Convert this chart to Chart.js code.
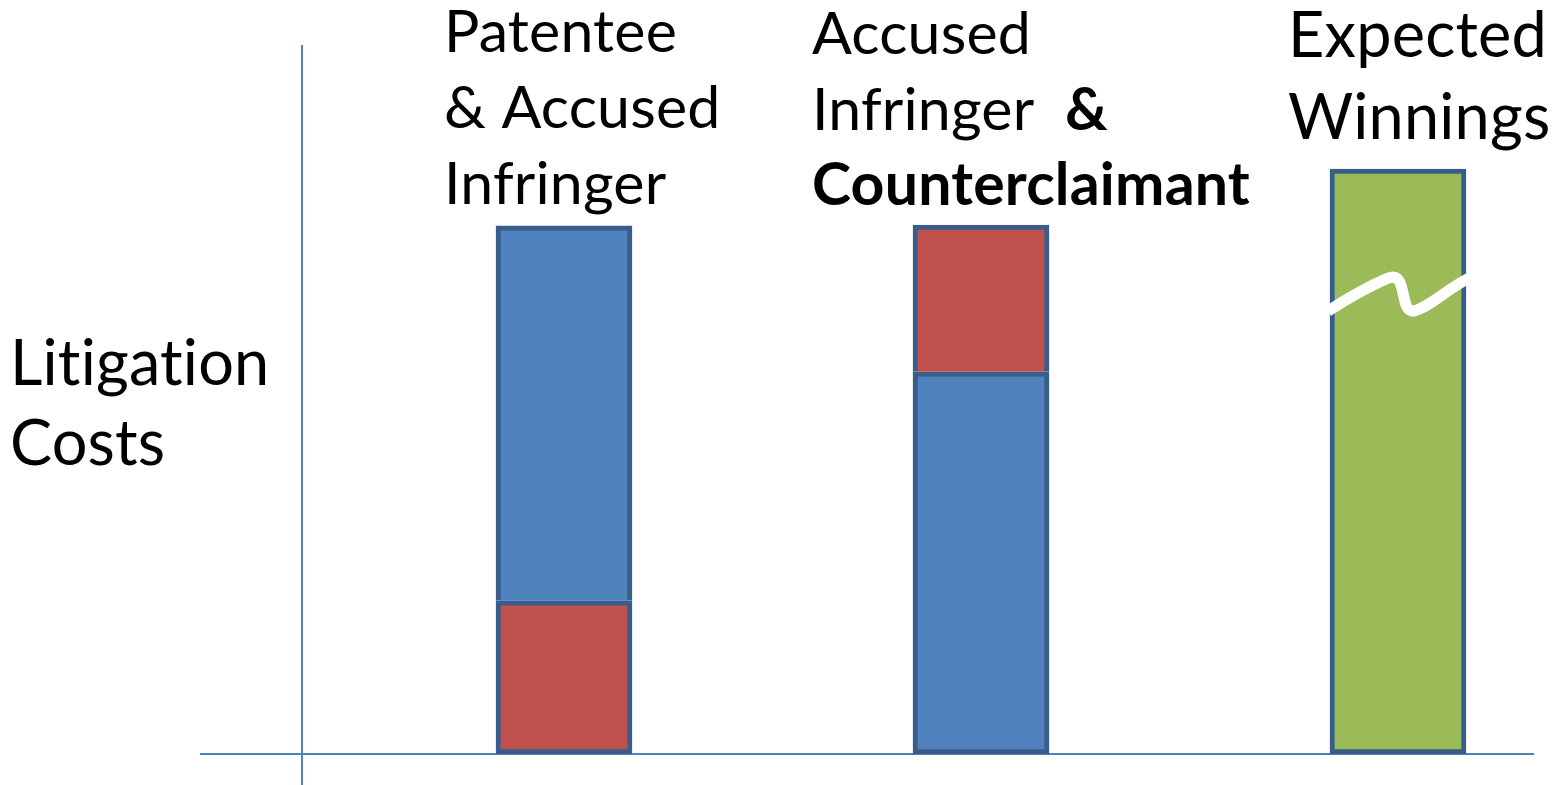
<!DOCTYPE html>
<html>
<head>
<meta charset="utf-8">
<script src="https://cdn.jsdelivr.net/npm/chart.js@4/dist/chart.umd.min.js"></script>
<style>
  html, body { margin: 0; padding: 0; background: #ffffff; overflow: hidden; }
  #wrap { position: relative; width: 1555px; height: 785px; }
</style>
</head>
<body>
<div id="wrap"><canvas id="c" width="1555" height="785"></canvas></div>
<script>
// ---------------- data ----------------
const categories = ["Patentee & Accused Infringer", "Accused Infringer & Counterclaimant", "Expected Winnings"];
const blueCosts = [52.9, 53.9, null];
const redCosts = [21.6, 20.7, null];
const expectedWinnings = [null, null, 82.5];
const lowerSegment = ["red", "blue", null];   // which cost sits at the bottom of each stack
const yAxisTitle = ["Litigation", "Costs"];
const yMin = 0;
const yMax = 100;
const breakAt = 65;  // value where the "axis break" squiggle crosses the winnings bar

// ---------------- layout / style ----------------
const COLORS = { blue: "#4F81BD", red: "#C0504D", green: "#9BBB59", border: "#385D8A", axis: "#4F81BD" };
const axisLayout = { yLineX: 302, xLineFrom: 200, xLineTo: 1534 };
const labelLayout = [
  { x: 444, baselines: [52, 128, 204], size: 59, lines: [[["Patentee", false]], [["& Accused", false]], [["Infringer", false]]] },
  { x: 812, baselines: [54, 130, 205], size: 59, lines: [[["Accused", false]], [["Infringer  ", false], ["&", true]], [["Counterclaimant", true]]] },
  { x: 1288, baselines: [57, 139], size: 63, lines: [[["Expected", false]], [["Winnings", false]]] }
];
const titleLayout = { x: 10, baselines: [385, 465], size: 63 };
const FONT = "Lato, 'Open Sans', sans-serif";

// floating ranges built from the amounts
function segRange(i, color) {
  if (lowerSegment[i] === null) return null;
  const red = redCosts[i], blue = blueCosts[i];
  if (color === "red") return lowerSegment[i] === "red" ? [0, red] : [blue, blue + red];
  return lowerSegment[i] === "blue" ? [0, blue] : [red, red + blue];
}
const redData = categories.map((_, i) => segRange(i, "red"));
const blueData = categories.map((_, i) => segRange(i, "blue"));
const greenData = expectedWinnings.map(v => v === null ? null : [0, v]);

const axisLinesPlugin = {
  id: "axisLines",
  beforeDatasetsDraw(chart) {
    const { ctx, chartArea, scales } = chart;
    const y0 = Math.round(scales.y.getPixelForValue(0));
    ctx.save();
    ctx.strokeStyle = COLORS.axis;
    ctx.lineWidth = 2;
    ctx.beginPath();
    ctx.moveTo(axisLayout.yLineX, chartArea.top);
    ctx.lineTo(axisLayout.yLineX, chart.height);
    ctx.moveTo(axisLayout.xLineFrom, y0);
    ctx.lineTo(axisLayout.xLineTo, y0);
    ctx.stroke();
    ctx.restore();
  }
};

const breakPlugin = {
  id: "breakMark",
  afterDatasetsDraw(chart) {
    const meta = chart.getDatasetMeta(2);
    const idx = expectedWinnings.findIndex(v => v !== null);
    const el = meta.data[idx];
    if (!el) return;
    const { ctx } = chart;
    const L = el.x - el.width / 2;
    const y0 = chart.scales.y.getPixelForValue(breakAt);
    ctx.save();
    ctx.strokeStyle = "#ffffff";
    ctx.lineWidth = 11;
    ctx.lineCap = "butt";
    ctx.lineJoin = "round";
    ctx.beginPath();
    ctx.moveTo(L - 2, y0 + 18);
    ctx.quadraticCurveTo(L + 30, y0 - 3, L + 58, y0 - 15);
    ctx.bezierCurveTo(L + 78, y0 - 23, L + 69, y0 + 18, L + 83, y0 + 18);
    ctx.bezierCurveTo(L + 100, y0 + 14, L + 115, y0 - 3, L + 139, y0 - 15);
    ctx.stroke();
    ctx.restore();
  }
};

function drawText(ctx, text, x, y) {
  // small letter spacing keeps the "ti" ligature from forming
  if ("letterSpacing" in ctx) ctx.letterSpacing = "0.2px";
  ctx.fillText(text, x, y);
  return ctx.measureText(text).width;
}

const textPlugin = {
  id: "texts",
  afterDraw(chart) {
    const { ctx } = chart;
    ctx.save();
    ctx.fillStyle = "#000000";
    ctx.textBaseline = "alphabetic";
    ctx.textAlign = "left";
    labelLayout.forEach(lab => {
      lab.lines.forEach((parts, li) => {
        let x = lab.x;
        parts.forEach(([t, bold]) => {
          ctx.font = (bold ? "bold " : "") + lab.size + "px " + FONT;
          x += drawText(ctx, t, x, lab.baselines[li]);
        });
      });
    });
    ctx.font = titleLayout.size + "px " + FONT;
    yAxisTitle.forEach((t, i) => drawText(ctx, t, titleLayout.x, titleLayout.baselines[i]));
    ctx.restore();
  }
};

function lowerFirst(color) {
  return (ctx) => (lowerSegment[ctx.dataIndex] === color ? false : "bottom");
}

function makeChart() {
  new Chart(document.getElementById("c"), {
    type: "bar",
    data: {
      labels: categories,
      datasets: [
        { label: "Red costs", data: redData, backgroundColor: COLORS.red, borderSkipped: lowerFirst("red") },
        { label: "Blue costs", data: blueData, backgroundColor: COLORS.blue, borderSkipped: lowerFirst("blue") },
        { label: "Expected winnings", data: greenData, backgroundColor: COLORS.green, borderSkipped: false }
      ]
    },
    options: {
      responsive: false,
      animation: false,
      events: [],
      layout: { padding: { left: 564, right: 157, top: 45, bottom: 31 } },
      datasets: {
        bar: { grouped: false, barThickness: 136, borderColor: COLORS.border, borderWidth: 5, clip: false }
      },
      plugins: { legend: { display: false }, tooltip: { enabled: false }, title: { display: false } },
      scales: {
        x: { type: "category", offset: false, display: false },
        y: { min: yMin, max: yMax, display: false }
      }
    },
    plugins: [axisLinesPlugin, breakPlugin, textPlugin]
  });
}

if (document.fonts && document.fonts.load) {
  Promise.all([
    document.fonts.load("59px Lato"),
    document.fonts.load("bold 59px Lato")
  ]).then(makeChart, makeChart);
} else {
  makeChart();
}
</script>
</body>
</html>
